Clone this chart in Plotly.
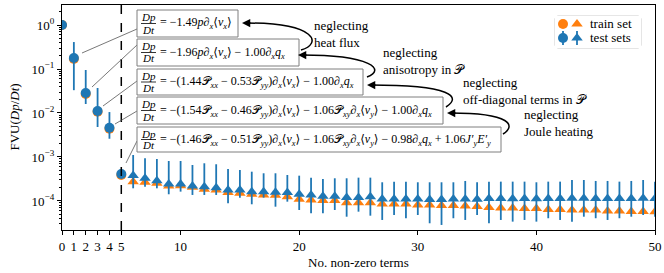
import plotly.graph_objects as go

# ---------------- data ----------------
n_terms = list(range(0, 51))

test_vals = [1.0, 0.178, 0.0285, 0.0111, 0.0046, 4.1e-4,
             3.80e-4, 3.28e-4, 2.89e-4, 2.43e-4, 2.43e-4, 2.19e-4, 2.11e-4, 2.00e-4, 1.78e-4, 1.78e-4,
             1.63e-4, 1.63e-4, 1.58e-4, 1.55e-4, 1.42e-4, 1.37e-4, 1.28e-4, 1.28e-4, 1.20e-4, 1.20e-4,
             1.25e-4, 1.11e-4, 1.11e-4, 1.11e-4, 1.11e-4, 1.08e-4, 1.08e-4, 1.11e-4, 1.11e-4, 1.10e-4,
             1.14e-4, 1.14e-4, 1.13e-4, 1.14e-4, 1.13e-4, 1.14e-4, 1.14e-4, 1.15e-4, 1.15e-4, 1.14e-4,
             1.14e-4, 1.14e-4, 1.14e-4, 1.15e-4, 1.14e-4]
test_upper = [1.02, 0.41, 0.095, 0.037, 0.0105, 4.4e-4,
              1.11e-3, 9.33e-4, 9.0e-4, 8.1e-4, 8.1e-4, 6.58e-4, 7.19e-4, 6.83e-4, 5.34e-4, 5.07e-4,
              4.63e-4, 4.26e-4, 4.26e-4, 3.90e-4, 3.76e-4, 3.39e-4, 3.16e-4, 3.28e-4, 3.28e-4, 3.39e-4,
              3.39e-4, 2.66e-4, 2.75e-4, 2.75e-4, 2.66e-4, 2.66e-4, 2.66e-4, 2.66e-4, 2.85e-4, 2.66e-4,
              2.75e-4, 2.75e-4, 2.75e-4, 2.75e-4, 2.66e-4, 2.75e-4, 2.75e-4, 3.0e-4, 3.0e-4, 2.85e-4,
              2.85e-4, 2.75e-4, 2.85e-4, 3.0e-4, 2.75e-4]
test_lower = [0.98, 0.033, 0.016, 0.0048, 0.0026, 3.8e-4,
              1.94e-4, 2.11e-4, 1.94e-4, 1.42e-4, 1.63e-4, 1.37e-4, 1.37e-4, 1.37e-4, 8.87e-5, 1.19e-4,
              8.41e-5, 1.19e-4, 7.41e-5, 9.64e-5, 6.24e-5, 5.25e-5, 5.25e-5, 6.24e-5, 4.39e-5, 5.71e-5,
              4.63e-5, 3.70e-5, 4.80e-5, 4.05e-5, 4.80e-5, 3.11e-5, 2.85e-5, 4.05e-5, 3.70e-5, 4.80e-5,
              3.11e-5, 3.70e-5, 3.39e-5, 3.70e-5, 3.39e-5, 4.05e-5, 3.70e-5, 3.39e-5, 4.39e-5, 4.05e-5,
              3.70e-5, 4.05e-5, 4.39e-5, 4.80e-5, 4.39e-5]
train_vals = [1.0, 0.17, 0.027, 0.0107, 0.0044, 3.9e-4,
              2.75e-4, 2.66e-4, 2.52e-4, 2.19e-4, 2.23e-4, 2.05e-4, 1.85e-4, 1.78e-4, 1.55e-4, 1.50e-4,
              1.42e-4, 1.37e-4, 1.35e-4, 1.25e-4, 1.09e-4, 1.05e-4, 1.02e-4, 1.02e-4, 9.15e-5, 9.15e-5,
              9.15e-5, 8.55e-5, 8.55e-5, 8.55e-5, 8.1e-5, 8.1e-5, 7.9e-5, 7.9e-5, 7.7e-5, 7.5e-5,
              7.1e-5, 6.93e-5, 6.93e-5, 6.76e-5, 6.76e-5, 6.4e-5, 6.4e-5, 6.24e-5, 6.24e-5, 6.24e-5,
              5.93e-5, 5.93e-5, 5.77e-5, 5.77e-5, 5.7e-5]

x_tick_vals = [0, 1, 2, 3, 4, 5, 10, 20, 30, 40, 50]
x_tick_text = ["0", "1", "2", "3", "4", "5", "10", "20", "30", "40", "50"]
y_tick_vals = [1, 1e-1, 1e-2, 1e-3, 1e-4]
y_tick_text = ["10<sup>0</sup>", "10<sup>−1</sup>", "10<sup>−2</sup>", "10<sup>−3</sup>", "10<sup>−4</sup>"]
y_minor_vals = [m * d for d in [1, 1e-1, 1e-2, 1e-3, 1e-4, 1e-5] for m in range(2, 10)]

BLUE = "#1f77b4"
ORANGE = "#ff7f0e"
FONT = "Liberation Serif, Times New Roman, DejaVu Serif, serif"

# ---------------- geometry helpers (pixel -> paper) ----------------
W, H = 664, 273
L, R, T, B = 62, 655, 5, 230


def px(x):
    return (x - L) / (R - L)


def py(y):
    return (B - y) / (B - T)


symbols = ["circle" if n <= 5 else "triangle-up" for n in n_terms]

fig = go.Figure()
fig.add_trace(go.Scatter(
    x=n_terms, y=train_vals, mode="markers",
    marker=dict(color=ORANGE, symbol=symbols, size=10, line=dict(width=0)),
    showlegend=False, name="train set"))
err_plus = [u - v for u, v in zip(test_upper, test_vals)]
err_minus = [v - lo for v, lo in zip(test_vals, test_lower)]
fig.add_trace(go.Scatter(
    x=n_terms, y=test_vals, mode="markers",
    marker=dict(color=BLUE, symbol=symbols, size=10, line=dict(width=0)),
    error_y=dict(type="data", array=err_plus, arrayminus=err_minus,
                 color=BLUE, thickness=1.8, width=0),
    showlegend=False, name="test sets"))

# ---------------- legend built on a small helper axis ----------------
LEG = dict(x0=555, x1=641, y0=16, y1=48)
leg_x = [563, 577]
leg_rows = [24, 38]
fig.add_trace(go.Scatter(
    x=leg_x, y=[leg_rows[0]] * 2, mode="markers", xaxis="x2", yaxis="y2",
    marker=dict(color=ORANGE, symbol=["circle", "triangle-up"], size=10, line=dict(width=0)),
    showlegend=False, hoverinfo="skip"))
fig.add_trace(go.Scatter(
    x=leg_x, y=[leg_rows[1]] * 2, mode="markers", xaxis="x2", yaxis="y2",
    marker=dict(color=BLUE, symbol=["circle", "triangle-up"], size=10, line=dict(width=0)),
    error_y=dict(type="constant", value=7, color=BLUE, thickness=1.8, width=0),
    showlegend=False, hoverinfo="skip"))

shapes = []
annotations = []

# legend frame (rounded)
r = 3
lx0, lx1, ly0, ly1 = px(LEG["x0"]), px(LEG["x1"]), py(LEG["y0"]), py(LEG["y1"])
rx, ry = r / (R - L), r / (B - T)
path = (f"M {lx0+rx},{ly0} L {lx1-rx},{ly0} Q {lx1},{ly0} {lx1},{ly0-ry} "
        f"L {lx1},{ly1+ry} Q {lx1},{ly1} {lx1-rx},{ly1} L {lx0+rx},{ly1} "
        f"Q {lx0},{ly1} {lx0},{ly1+ry} L {lx0},{ly0-ry} Q {lx0},{ly0} {lx0+rx},{ly0} Z")
shapes.append(dict(type="path", xref="paper", yref="paper", path=path,
                   line=dict(color="#cccccc", width=1), fillcolor="white", layer="below"))
for txt, yy in zip(["train set", "test sets"], leg_rows):
    annotations.append(dict(x=px(588), y=py(yy), xref="paper", yref="paper", text=txt,
                            showarrow=False, xanchor="left", yanchor="middle",
                            font=dict(family=FONT, size=13, color="black")))

# vertical dashed line at 5 terms
shapes.append(dict(type="line", xref="x", yref="paper", x0=5, x1=5, y0=0, y1=1,
                   line=dict(color="black", width=1.5, dash="dash")))

# ---------------- equation boxes ----------------


def I(s):
    return f"<i>{s}</i>"


def sb(s):
    return f"<sub>{I(s)}</sub>"


P = "𝒫"
dx = "∂" + sb("x")
vx = "⟨" + I("v") + sb("x") + "⟩"
vy = "⟨" + I("v") + sb("y") + "⟩"
qx = I("q") + sb("x")
Pxx, Pyy, Pxy = P + sb("xx"), P + sb("yy"), P + sb("xy")

eqs = [
    f"= −1.49{I('p')}{dx}{vx}",
    f"= −1.96{I('p')}{dx}{vx} − 1.00{dx}{qx}",
    f"= −(1.44{Pxx} − 0.53{Pyy}){dx}{vx} − 1.00{dx}{qx}",
    f"= −(1.54{Pxx} − 0.46{Pyy}){dx}{vx} − 1.06{Pxy}{dx}{vy} − 1.00{dx}{qx}",
    f"= −(1.46{Pxx} − 0.51{Pyy}){dx}{vx} − 1.06{Pxy}{dx}{vy} − 0.98{dx}{qx} + 1.06{I('J′')}{sb('y')}{I('E′')}{sb('y')}",
]
boxes = [(137, 238, 10, 37), (137, 299, 39, 66), (137, 363, 69, 95),
         (137, 443, 97, 124), (137, 501, 127, 152)]
connectors = [((82, 53), (137, 29)), ((92, 87), (137, 45)), ((103, 106), (137, 81)),
              ((115, 124), (137, 111)), ((126, 163), (137, 141))]

for (bx0, bx1, by0, by1), eq, ((cx0, cy0), (cx1, cy1)) in zip(boxes, eqs, connectors):
    shapes.append(dict(type="line", xref="paper", yref="paper",
                       x0=px(cx0), y0=py(cy0), x1=px(cx1), y1=py(cy1),
                       line=dict(color="#555555", width=0.8)))
    shapes.append(dict(type="rect", xref="paper", yref="paper",
                       x0=px(bx0), x1=px(bx1), y0=py(by0), y1=py(by1),
                       line=dict(color="#7f7f7f", width=1), fillcolor="white"))
    ym = (by0 + by1) / 2
    shapes.append(dict(type="line", xref="paper", yref="paper",
                       x0=px(bx0 + 4), x1=px(bx0 + 19), y0=py(ym), y1=py(ym),
                       line=dict(color="black", width=0.8)))
    annotations.append(dict(x=px(bx0 + 11.5), y=py(by0 + 7), xref="paper", yref="paper",
                            text=I("Dp"), showarrow=False, xanchor="center", yanchor="middle",
                            font=dict(family=FONT, size=11, color="black")))
    annotations.append(dict(x=px(bx0 + 11.5), y=py(by1 - 7.5), xref="paper", yref="paper",
                            text=I("Dt"), showarrow=False, xanchor="center", yanchor="middle",
                            font=dict(family=FONT, size=11, color="black")))
    annotations.append(dict(x=px(bx0 + 21), y=py(ym), xref="paper", yref="paper",
                            text=eq, showarrow=False, xanchor="left", yanchor="middle",
                            font=dict(family=FONT, size=12, color="black")))

# ---------------- curved arrows with labels ----------------
curves = [
    ((301, 50), (322, 44), (318, 23), (246, 23)),
    ((367, 77), (386, 70), (372, 55), (302, 55)),
    ((446, 107), (462, 97), (452, 85), (371, 85)),
    ((503, 134), (516, 126), (512, 113), (451, 113)),
]
for p0, c1, c2, p1 in curves:
    pth = (f"M {px(p0[0])},{py(p0[1])} C {px(c1[0])},{py(c1[1])} "
           f"{px(c2[0])},{py(c2[1])} {px(p1[0])},{py(p1[1])}")
    shapes.append(dict(type="path", xref="paper", yref="paper", path=pth,
                       line=dict(color="black", width=1.5)))
    annotations.append(dict(x=px(p1[0] - 4), y=py(p1[1]), xref="paper", yref="paper",
                            ax=10, ay=0, text="", showarrow=True, arrowhead=2,
                            arrowsize=1.1, arrowwidth=1.5, arrowcolor="black"))

labels = [("neglecting<br>heat flux", 312, 33.5),
          ("neglecting<br>anisotropy in 𝒫", 381, 61.5),
          ("neglecting<br>off-diagonal terms in 𝒫", 461, 91),
          ("neglecting<br>Joule heating", 522, 123.5)]
for txt, lx, ly in labels:
    annotations.append(dict(x=px(lx), y=py(ly), xref="paper", yref="paper", text=txt,
                            showarrow=False, xanchor="left", yanchor="middle", align="left",
                            font=dict(family=FONT, size=13, color="black")))

# axis titles
annotations.append(dict(x=px(14), y=0.5, xref="paper", yref="paper",
                        text="FVU(" + I("Dp") + "/" + I("Dt") + ")", textangle=-90,
                        showarrow=False, xanchor="center", yanchor="middle",
                        font=dict(family=FONT, size=13, color="black")))
annotations.append(dict(x=0.5, y=py(262), xref="paper", yref="paper",
                        text="No. non-zero terms", showarrow=False,
                        xanchor="center", yanchor="middle",
                        font=dict(family=FONT, size=13, color="black")))

fig.update_layout(
    template="none",
    width=W, height=H,
    margin=dict(l=L, r=W - R, t=T, b=H - B, pad=0),
    paper_bgcolor="white", plot_bgcolor="white",
    font=dict(family=FONT, size=13, color="black"),
    shapes=shapes, annotations=annotations,
    hovermode=False,
    xaxis=dict(range=[0, 50], tickvals=x_tick_vals, ticktext=x_tick_text,
               ticks="outside", ticklen=4, tickwidth=1, tickcolor="black",
               showline=True, linecolor="black", linewidth=1.3, mirror=True,
               showgrid=False, zeroline=False, automargin=False,
               tickfont=dict(family=FONT, size=13)),
    yaxis=dict(type="log", range=[-4.66, 0.455], tickvals=y_tick_vals, ticktext=y_tick_text,
               ticks="outside", ticklen=4, tickwidth=1, tickcolor="black",
               minor=dict(tickvals=y_minor_vals, ticks="outside", ticklen=2, tickwidth=0.8,
                          tickcolor="black", showgrid=False),
               showline=True, linecolor="black", linewidth=1.3, mirror=True,
               showgrid=False, zeroline=False, automargin=False,
               tickfont=dict(family=FONT, size=13)),
    xaxis2=dict(domain=[px(LEG["x0"]), px(LEG["x1"])], range=[LEG["x0"], LEG["x1"]],
                anchor="y2", visible=False, fixedrange=True),
    yaxis2=dict(domain=[py(LEG["y1"]), py(LEG["y0"])], range=[LEG["y1"], LEG["y0"]],
                anchor="x2", visible=False, fixedrange=True),
)

fig.write_html("out.html", config={"displayModeBar": False},
               post_script="document.body.style.margin='0';document.body.style.overflow='hidden';")
